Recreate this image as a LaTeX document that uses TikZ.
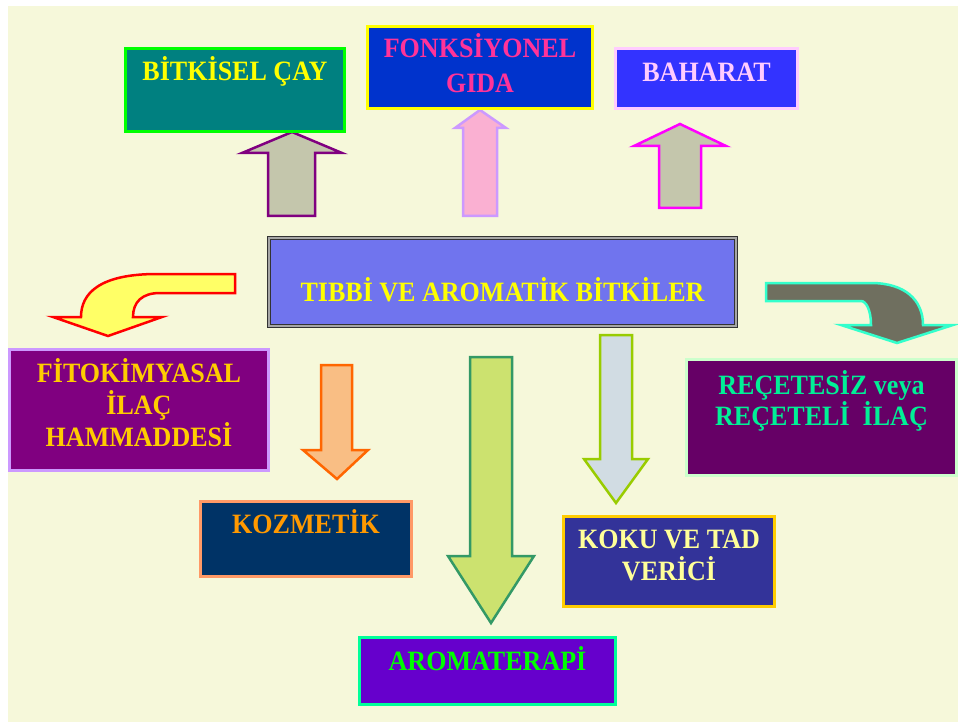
\documentclass[tikz,border=0pt]{standalone}
\usepackage{fontspec}
\setmainfont{Liberation Serif}[FakeStretch=0.93]
\newcommand{\bxt}[5]{\parbox[c][#2][t]{#1}{\centering\fontsize{28}{#4}\selectfont\bfseries\vspace*{#3}\rule{0pt}{25pt}#5}}
\definecolor{bgc}{HTML}{F6F8DA}
\definecolor{mainc}{HTML}{7074EE}
\definecolor{grayfill}{HTML}{C4C6AC}
\tikzset{
  bx/.style={draw, line width=3pt, inner sep=0pt, outer sep=0pt},
  blockarrow/.style={line width=2.5pt, line join=miter}
}
\begin{document}
\begin{tikzpicture}[x=1pt,y=-1pt]
\useasboundingbox (0,0) rectangle (958,722);
\fill[white] (0,0) rectangle (958,722);
\fill[bgc] (8,6) rectangle (958,722);

% block arrows
\filldraw[blockarrow, fill=grayfill, draw={rgb,255:red,128;green,0;blue,128}]
  (268,216) -- (268,153) -- (242,153) -- (292,132) -- (342,153) -- (315,153) -- (315,216) -- cycle;
\filldraw[blockarrow, draw={rgb,255:red,204;green,153;blue,255}, fill={rgb,255:red,250;green,176;blue,210}]
  (463,216) -- (463,128) -- (455,128) -- (480,110) -- (506,128) -- (497,128) -- (497,216) -- cycle;
\filldraw[blockarrow, draw={rgb,255:red,255;green,0;blue,255}, fill=grayfill]
  (659,208) -- (659,146) -- (634,146) -- (680,124) -- (726,146) -- (701,146) -- (701,208) -- cycle;
\filldraw[blockarrow, draw={rgb,255:red,255;green,102;blue,0}, fill={rgb,255:red,249;green,190;blue,132}]
  (321,365) -- (352,365) -- (352,450) -- (368,450) -- (337,479) -- (303,450) -- (321,450) -- cycle;
\filldraw[blockarrow, draw={rgb,255:red,51;green,153;blue,102}, fill={rgb,255:red,204;green,226;blue,111}]
  (470,357) -- (512,357) -- (512,556) -- (534,556) -- (491,623) -- (448,556) -- (470,556) -- cycle;
\filldraw[blockarrow, draw={rgb,255:red,153;green,204;blue,0}, fill={rgb,255:red,209;green,220;blue,227}]
  (600,335) -- (632,335) -- (632,459) -- (648,459) -- (616,503) -- (584,459) -- (600,459) -- cycle;
% curved arrows
\filldraw[blockarrow, draw={rgb,255:red,255;green,0;blue,0}, fill={rgb,255:red,255;green,255;blue,102}]
  (235,274) -- (157,274) .. controls (100,274) and (81,293) .. (81,317)
  -- (53,317) -- (108,336) -- (162,317) -- (133,317)
  .. controls (133,302) and (142,293) .. (160,293) -- (235,293) -- cycle;
\filldraw[blockarrow, draw={rgb,255:red,51;green,255;blue,204}, fill={rgb,255:red,111;green,111;blue,95}]
  (766,283) -- (871,283) .. controls (905,283) and (923,300) .. (923,325)
  -- (953,325) -- (897,343) -- (841,325) -- (871,325)
  .. controls (871,310) and (866,301) .. (861,301) -- (766,301) -- cycle;

% boxes
\node[bx, draw={rgb,255:red,0;green,255;blue,0}, fill={rgb,255:red,0;green,128;blue,128}, text={rgb,255:red,255;green,255;blue,0}]
  (bitki) at (235,90) {\bxt{219pt}{83pt}{6.8pt}{32pt}{BİTKİSEL ÇAY}};
\node[bx, draw={rgb,255:red,255;green,255;blue,0}, fill={rgb,255:red,0;green,51;blue,204}, text={rgb,255:red,255;green,51;blue,153}]
  (fonks) at (480,67.5) {\bxt{225pt}{82pt}{5.8pt}{35pt}{FONKSİYONEL\\GIDA}};
\node[bx, draw={rgb,255:red,255;green,204;blue,255}, fill={rgb,255:red,51;green,51;blue,255}, text={rgb,255:red,255;green,204;blue,255}]
  (bahar) at (706.5,78.5) {\bxt{182pt}{60pt}{7.8pt}{32pt}{BAHARAT}};
\node[draw=black!80, double=gray!70, double distance=1.6pt, line width=1.1pt, fill=mainc, inner sep=0pt, text={rgb,255:red,255;green,255;blue,0}]
  (main) at (502.5,282) {\bxt{467pt}{88pt}{38.4pt}{32pt}{TIBBİ VE AROMATİK BİTKİLER}};
\node[bx, draw={rgb,255:red,204;green,153;blue,255}, fill={rgb,255:red,128;green,0;blue,128}, text={rgb,255:red,255;green,204;blue,0}]
  (fito) at (139,410) {\bxt{259pt}{121pt}{7.8pt}{32pt}{FİTOKİMYASAL\\İLAÇ\\HAMMADDESİ}};
\node[bx, draw={rgb,255:red,204;green,255;blue,204}, fill={rgb,255:red,102;green,0;blue,102}, text={rgb,255:red,0;green,240;blue,150}]
  (recete) at (821.5,417.5) {\bxt{270pt}{116pt}{9.8pt}{30pt}{REÇETESİZ veya\\REÇETELİ\ \ İLAÇ}};
\node[bx, draw={rgb,255:red,255;green,153;blue,102}, fill={rgb,255:red,0;green,51;blue,102}, text={rgb,255:red,255;green,153;blue,0}]
  (kozm) at (306,539) {\bxt{211pt}{75pt}{6.8pt}{32pt}{KOZMETİK}};
\node[bx, draw={rgb,255:red,255;green,204;blue,0}, fill={rgb,255:red,51;green,51;blue,153}, text={rgb,255:red,255;green,255;blue,153}]
  (koku) at (669,561.5) {\bxt{211pt}{90pt}{6.8pt}{32pt}{KOKU VE TAD\\VERİCİ}};
\node[bx, draw={rgb,255:red,0;green,255;blue,153}, fill={rgb,255:red,102;green,0;blue,204}, text={rgb,255:red,0;green,255;blue,0}]
  (aroma) at (487.5,671) {\bxt{256pt}{67pt}{7.8pt}{32pt}{AROMATERAPİ}};
\end{tikzpicture}
\end{document}
